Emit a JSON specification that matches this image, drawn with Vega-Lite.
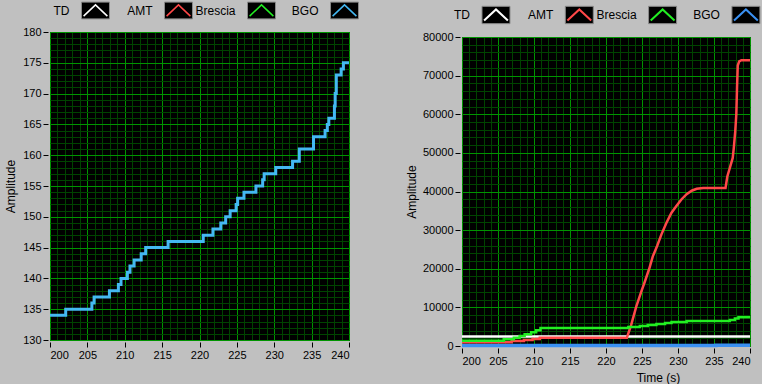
{
  "$schema": "https://vega.github.io/schema/vega-lite/v6.json",
  "background": "#c0c0c0",
  "padding": {"left": 3, "top": 0, "right": 0, "bottom": 0},
  "config": {
    "font": "Liberation Sans",
    "axis": {"labelFont": "Liberation Sans", "titleFont": "Liberation Sans", "labelColor": "#000", "titleColor": "#000", "labelFontSize": 11, "titleFontSize": 12, "titleFontWeight": "normal", "tickColor": "#000", "gridOpacity": 1}
  },
  "datasets": {
    "legend": [
      {"i": 0, "name": "TD"}, {"i": 1, "name": "AMT"}, {"i": 2, "name": "Brescia"}, {"i": 3, "name": "BGO"}
    ],
    "bgo": [
      {"t": 200, "v": 134}, {"t": 202.1, "v": 135}, {"t": 205.6, "v": 136}, {"t": 205.9, "v": 137},
      {"t": 207.95, "v": 138}, {"t": 209.15, "v": 139}, {"t": 209.5, "v": 140}, {"t": 210.35, "v": 141},
      {"t": 210.7, "v": 142}, {"t": 211.25, "v": 143}, {"t": 212.2, "v": 144}, {"t": 212.8, "v": 145},
      {"t": 215.8, "v": 146}, {"t": 220.5, "v": 147}, {"t": 221.8, "v": 148}, {"t": 222.85, "v": 149},
      {"t": 223.5, "v": 150}, {"t": 224.1, "v": 151}, {"t": 224.9, "v": 152}, {"t": 225.1, "v": 153},
      {"t": 225.95, "v": 154}, {"t": 227.55, "v": 155}, {"t": 228.45, "v": 156}, {"t": 228.65, "v": 157},
      {"t": 230.2, "v": 158}, {"t": 232.45, "v": 159}, {"t": 233.35, "v": 161}, {"t": 235.25, "v": 163},
      {"t": 236.8, "v": 164}, {"t": 237.1, "v": 165}, {"t": 237.3, "v": 166}, {"t": 238.05, "v": 168},
      {"t": 238.15, "v": 170}, {"t": 238.3, "v": 173}, {"t": 238.95, "v": 174}, {"t": 239.25, "v": 175},
      {"t": 240, "v": 175}
    ],
    "right": [
      {"s": "TD", "k": 0, "t": 200, "v": 2450}, {"s": "TD", "k": 1, "t": 240, "v": 2450},
      {"s": "AMT", "k": 0, "t": 200, "v": 940}, {"s": "AMT", "k": 1, "t": 206.9, "v": 940},
      {"s": "AMT", "k": 2, "t": 206.9, "v": 1300}, {"s": "AMT", "k": 3, "t": 208.6, "v": 1300},
      {"s": "AMT", "k": 4, "t": 208.6, "v": 1560}, {"s": "AMT", "k": 5, "t": 209.8, "v": 1560},
      {"s": "AMT", "k": 6, "t": 209.8, "v": 1820}, {"s": "AMT", "k": 7, "t": 210.8, "v": 1820},
      {"s": "AMT", "k": 8, "t": 210.8, "v": 2160}, {"s": "AMT", "k": 9, "t": 222.9, "v": 2160},
      {"s": "AMT", "k": 10, "t": 223.5, "v": 5450}, {"s": "AMT", "k": 11, "t": 224.2, "v": 10200},
      {"s": "AMT", "k": 12, "t": 224.9, "v": 14100}, {"s": "AMT", "k": 13, "t": 225.4, "v": 16700},
      {"s": "AMT", "k": 14, "t": 226.0, "v": 20000}, {"s": "AMT", "k": 15, "t": 226.5, "v": 23200},
      {"s": "AMT", "k": 16, "t": 227.1, "v": 25900}, {"s": "AMT", "k": 17, "t": 227.7, "v": 28900},
      {"s": "AMT", "k": 18, "t": 228.4, "v": 31900}, {"s": "AMT", "k": 19, "t": 229.1, "v": 34500},
      {"s": "AMT", "k": 20, "t": 229.8, "v": 36300}, {"s": "AMT", "k": 21, "t": 230.5, "v": 38000},
      {"s": "AMT", "k": 22, "t": 231.2, "v": 39300}, {"s": "AMT", "k": 23, "t": 231.9, "v": 40200},
      {"s": "AMT", "k": 24, "t": 232.6, "v": 40700}, {"s": "AMT", "k": 25, "t": 233.5, "v": 40900},
      {"s": "AMT", "k": 26, "t": 236.6, "v": 40900}, {"s": "AMT", "k": 27, "t": 236.85, "v": 43900},
      {"s": "AMT", "k": 28, "t": 237.2, "v": 46100}, {"s": "AMT", "k": 29, "t": 237.6, "v": 48700},
      {"s": "AMT", "k": 30, "t": 237.75, "v": 51300}, {"s": "AMT", "k": 31, "t": 237.95, "v": 55600},
      {"s": "AMT", "k": 32, "t": 238.1, "v": 60000}, {"s": "AMT", "k": 33, "t": 238.2, "v": 67000},
      {"s": "AMT", "k": 34, "t": 238.3, "v": 72600}, {"s": "AMT", "k": 35, "t": 238.5, "v": 73700},
      {"s": "AMT", "k": 36, "t": 238.8, "v": 74000}, {"s": "AMT", "k": 37, "t": 240, "v": 74000},
      {"s": "Brescia", "k": 0, "t": 200, "v": 1380}, {"s": "Brescia", "k": 1, "t": 205.8, "v": 1380},
      {"s": "Brescia", "k": 2, "t": 205.8, "v": 1730}, {"s": "Brescia", "k": 3, "t": 207.2, "v": 1730},
      {"s": "Brescia", "k": 4, "t": 207.2, "v": 2160}, {"s": "Brescia", "k": 5, "t": 208.0, "v": 2160},
      {"s": "Brescia", "k": 6, "t": 208.0, "v": 2600}, {"s": "Brescia", "k": 7, "t": 208.7, "v": 2600},
      {"s": "Brescia", "k": 8, "t": 208.7, "v": 3030}, {"s": "Brescia", "k": 9, "t": 209.6, "v": 3030},
      {"s": "Brescia", "k": 10, "t": 209.6, "v": 3550}, {"s": "Brescia", "k": 11, "t": 210.3, "v": 3550},
      {"s": "Brescia", "k": 12, "t": 210.3, "v": 4100}, {"s": "Brescia", "k": 13, "t": 210.9, "v": 4100},
      {"s": "Brescia", "k": 14, "t": 210.9, "v": 4680}, {"s": "Brescia", "k": 15, "t": 223.1, "v": 4680},
      {"s": "Brescia", "k": 16, "t": 223.1, "v": 4940}, {"s": "Brescia", "k": 17, "t": 224.7, "v": 4940},
      {"s": "Brescia", "k": 18, "t": 224.7, "v": 5200}, {"s": "Brescia", "k": 19, "t": 225.8, "v": 5200},
      {"s": "Brescia", "k": 20, "t": 225.8, "v": 5460}, {"s": "Brescia", "k": 21, "t": 227.0, "v": 5460},
      {"s": "Brescia", "k": 22, "t": 227.0, "v": 5720}, {"s": "Brescia", "k": 23, "t": 228.2, "v": 5720},
      {"s": "Brescia", "k": 24, "t": 228.2, "v": 5980}, {"s": "Brescia", "k": 25, "t": 229.1, "v": 5980},
      {"s": "Brescia", "k": 26, "t": 229.1, "v": 6240}, {"s": "Brescia", "k": 27, "t": 231.2, "v": 6240},
      {"s": "Brescia", "k": 28, "t": 231.2, "v": 6500}, {"s": "Brescia", "k": 29, "t": 237.2, "v": 6500},
      {"s": "Brescia", "k": 30, "t": 237.2, "v": 6760}, {"s": "Brescia", "k": 31, "t": 237.9, "v": 6760},
      {"s": "Brescia", "k": 32, "t": 237.9, "v": 7100}, {"s": "Brescia", "k": 33, "t": 238.4, "v": 7100},
      {"s": "Brescia", "k": 34, "t": 238.4, "v": 7450}, {"s": "Brescia", "k": 35, "t": 240, "v": 7450}
    ]
  },
  "spacing": 43,
  "hconcat": [
    {
      "bounds": "flush",
      "spacing": 12,
      "vconcat": [
        {
          "width": 299, "height": 19,
          "view": {"stroke": null},
          "data": {"name": "legend"},
          "encoding": {
            "x": {"field": "i", "type": "quantitative", "scale": {"domain": [-0.548, 3.054], "nice": false, "zero": false}, "axis": null}
          },
          "layer": [
            {"mark": {"type": "point", "shape": "M-1,-0.6H1V0.6H-1Z", "filled": true, "color": "#000", "size": 784, "stroke": "#8a8a8a", "strokeWidth": 1, "opacity": 1}},
            {"mark": {"type": "point", "shape": "M-0.85,0.4L0,-0.4L0.85,0.4", "filled": false, "size": 784, "strokeWidth": 1.5, "opacity": 1},
             "encoding": {"color": {"field": "name", "type": "nominal", "scale": {"domain": ["TD", "AMT", "Brescia", "BGO"], "range": ["#ffffff", "#ff4848", "#22ee22", "#44b8f2"]}, "legend": null}}},
            {"mark": {"type": "text", "align": "right", "baseline": "middle", "dx": -26, "fontSize": 12, "color": "#000", "font": "Liberation Sans"},
             "encoding": {"text": {"field": "name"}}}
          ]
        },
        {
          "width": 299, "height": 308,
          "view": {"fill": "#000", "stroke": "#7a7a7a"},
          "data": {"name": "bgo"},
          "resolve": {"axis": {"x": "independent", "y": "independent"}},
          "layer": [
            {
              "mark": {"type": "line", "opacity": 0},
              "encoding": {
                "x": {"field": "t", "type": "quantitative", "scale": {"domain": [200, 240], "nice": false, "zero": false},
                      "axis": {"orient": "bottom", "values": [200,201,202,203,204,205,206,207,208,209,210,211,212,213,214,215,216,217,218,219,220,221,222,223,224,225,226,227,228,229,230,231,232,233,234,235,236,237,238,239,240], "grid": true, "gridColor": "#004400", "ticks": false, "labels": false, "domain": false, "title": null}},
                "y": {"field": "v", "type": "quantitative", "scale": {"domain": [130, 180], "nice": false, "zero": false},
                      "axis": {"orient": "left", "values": [130,131,132,133,134,135,136,137,138,139,140,141,142,143,144,145,146,147,148,149,150,151,152,153,154,155,156,157,158,159,160,161,162,163,164,165,166,167,168,169,170,171,172,173,174,175,176,177,178,179,180], "grid": true, "gridColor": "#004400", "ticks": false, "labels": false, "domain": false, "title": null}}
              }
            },
            {
              "mark": {"type": "line", "interpolate": "step-after", "color": "#44b8f2", "strokeWidth": 3},
              "encoding": {
                "x": {"field": "t", "type": "quantitative",
                      "axis": {"orient": "bottom", "values": [200,205,210,215,220,225,230,235,240], "grid": true, "gridColor": "#009400", "domain": false, "offset": 2, "tickSize": 5, "labelPadding": 2, "title": null}},
                "y": {"field": "v", "type": "quantitative",
                      "axis": {"orient": "left", "values": [130,135,140,145,150,155,160,165,170,175,180], "grid": true, "gridColor": "#009400", "domain": false, "offset": 2, "tickSize": 5, "labelPadding": 2, "title": "Amplitude", "titleX": -38, "titleBaseline": "middle", "titleAngle": -90}}
              }
            }
          ]
        }
      ]
    },
    {
      "bounds": "flush",
      "spacing": 8,
      "vconcat": [
        {
          "width": 288, "height": 28,
          "view": {"stroke": null},
          "data": {"name": "legend"},
          "encoding": {
            "x": {"field": "i", "type": "quantitative", "scale": {"domain": [-0.408, 3.049], "nice": false, "zero": false}, "axis": null}
          },
          "layer": [
            {"mark": {"type": "point", "shape": "M-1,-0.62H1V0.62H-1Z", "filled": true, "color": "#000", "size": 784, "stroke": "#8a8a8a", "strokeWidth": 1, "opacity": 1}},
            {"mark": {"type": "point", "shape": "M-0.85,0.4L0,-0.4L0.85,0.4", "filled": false, "size": 784, "strokeWidth": 2, "opacity": 1},
             "encoding": {"color": {"field": "name", "type": "nominal", "scale": {"domain": ["TD", "AMT", "Brescia", "BGO"], "range": ["#ffffff", "#ff4848", "#22ee22", "#3a90f2"]}, "legend": null}}},
            {"mark": {"type": "text", "align": "right", "baseline": "middle", "dx": -26, "fontSize": 12, "color": "#000", "font": "Liberation Sans"},
             "encoding": {"text": {"field": "name"}}}
          ],
          "resolve": {"scale": {"color": "independent"}}
        },
        {
          "width": 288, "height": 309,
          "view": {"fill": "#000", "stroke": "#7a7a7a"},
          "resolve": {"axis": {"x": "independent", "y": "independent"}},
          "layer": [
            {
              "data": {"name": "right"},
              "mark": {"type": "line", "opacity": 0},
              "encoding": {
                "x": {"field": "t", "type": "quantitative", "scale": {"domain": [200, 240], "nice": false, "zero": false},
                      "axis": {"orient": "bottom", "values": [200,201,202,203,204,205,206,207,208,209,210,211,212,213,214,215,216,217,218,219,220,221,222,223,224,225,226,227,228,229,230,231,232,233,234,235,236,237,238,239,240], "grid": true, "gridColor": "#004400", "ticks": false, "labels": false, "domain": false, "title": null}},
                "y": {"field": "v", "type": "quantitative", "scale": {"domain": [0, 80000], "nice": false, "zero": false},
                      "axis": {"orient": "left", "values": [0,2000,4000,6000,8000,10000,12000,14000,16000,18000,20000,22000,24000,26000,28000,30000,32000,34000,36000,38000,40000,42000,44000,46000,48000,50000,52000,54000,56000,58000,60000,62000,64000,66000,68000,70000,72000,74000,76000,78000,80000], "grid": true, "gridColor": "#004400", "ticks": false, "labels": false, "domain": false, "title": null}},
                "detail": {"field": "s"}
              }
            },
            {
              "data": {"name": "bgo"},
              "mark": {"type": "line", "interpolate": "step-after", "color": "#3a90f2", "strokeWidth": 3.5},
              "encoding": {
                "x": {"field": "t", "type": "quantitative",
                      "axis": {"orient": "bottom", "values": [200,205,210,215,220,225,230,235,240], "grid": true, "gridColor": "#009400", "domain": false, "offset": 2, "tickSize": 5, "labelPadding": 2, "title": "Time (s)", "titleX": 196, "titleY": 29, "titleBaseline": "middle", "titleAlign": "center"}},
                "y": {"field": "v", "type": "quantitative",
                      "axis": {"orient": "left", "values": [0,10000,20000,30000,40000,50000,60000,70000,80000], "format": "d", "grid": true, "gridColor": "#009400", "domain": false, "offset": 2, "tickSize": 5, "labelPadding": 2, "title": "Amplitude", "titleX": -49, "titleBaseline": "middle", "titleAngle": -90}}
              }
            },
            {
              "data": {"name": "right"},
              "mark": {"type": "line", "strokeWidth": 2.5},
              "encoding": {
                "x": {"field": "t", "type": "quantitative", "axis": null},
                "y": {"field": "v", "type": "quantitative", "axis": null},
                "order": {"field": "k", "type": "quantitative"},
                "color": {"field": "s", "type": "nominal", "scale": {"domain": ["TD", "AMT", "Brescia"], "range": ["#ffffff", "#ff4848", "#22ee22"]}, "legend": null}
              }
            }
          ]
        }
      ]
    }
  ],
  "resolve": {"scale": {"color": "independent"}}
}
